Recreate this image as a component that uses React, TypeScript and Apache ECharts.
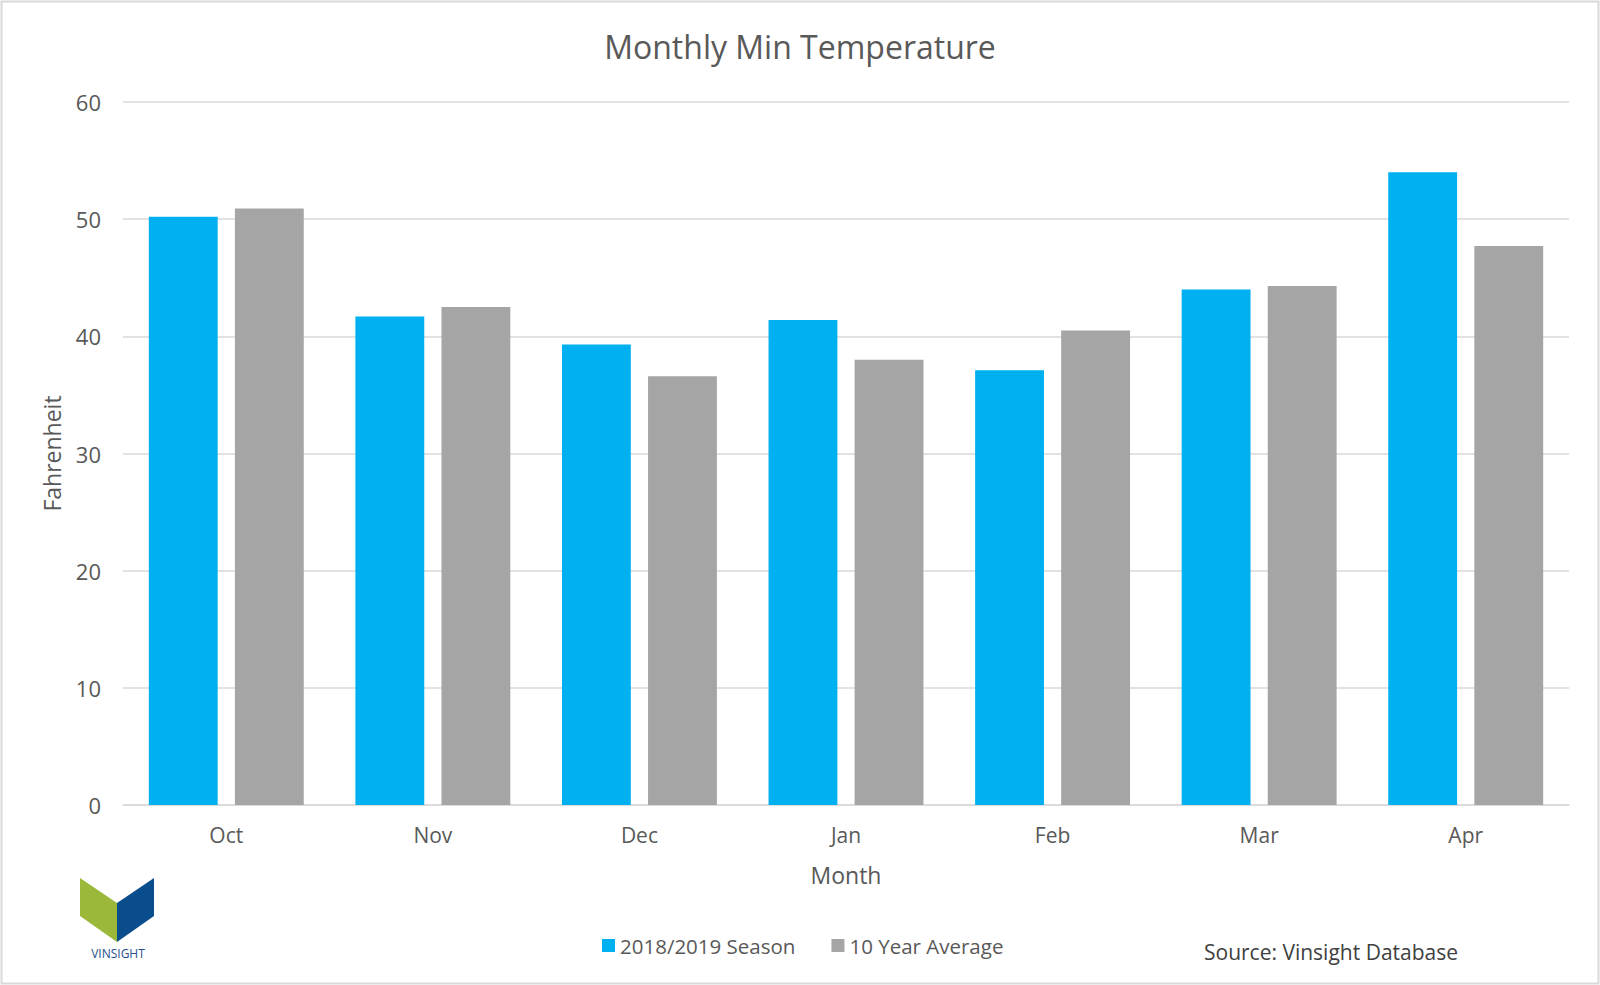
import React, { useEffect, useRef } from "react";
import * as echarts from "echarts";

const months = ["Oct", "Nov", "Dec", "Jan", "Feb", "Mar", "Apr"];
const season = [50.2, 41.7, 39.3, 41.4, 37.1, 44.0, 54.0];
const tenYearAvg = [50.9, 42.5, 36.6, 38.0, 40.5, 44.3, 47.7];
const seriesNames = ["2018/2019 Season", "10 Year Average"];
const FONT = "'Open Sans', 'Liberation Sans', sans-serif";

export default function App() {
  const ref = useRef<HTMLDivElement>(null);
  useEffect(() => {
    const chart = echarts.init(ref.current!, null, { renderer: "svg" });
    chart.setOption({
      animation: false,
      backgroundColor: "#ffffff",
      textStyle: { fontFamily: FONT },
      title: {
        text: "Monthly Min Temperature",
        left: "center",
        top: 25,
        textStyle: { fontFamily: FONT, fontSize: 32, fontWeight: "normal", color: "#595959" },
      },
      legend: {
        data: seriesNames,
        left: 597,
        top: 930,
        itemWidth: 13,
        itemHeight: 13,
        itemGap: 36,
        icon: "rect",
        textStyle: { fontFamily: FONT, fontSize: 20.5, color: "#595959" },
      },
      grid: { left: 123, right: 31, top: 102, bottom: 180, containLabel: false },
      xAxis: {
        type: "category",
        data: months,
        name: "Month",
        nameLocation: "middle",
        nameGap: 58,
        nameTextStyle: { fontFamily: FONT, fontSize: 23, color: "#595959" },
        axisLine: { lineStyle: { color: "#d9d9d9", width: 1.5 } },
        axisTick: { show: false },
        axisLabel: { fontFamily: FONT, fontSize: 21, color: "#595959", margin: 19 },
      },
      yAxis: {
        type: "value",
        min: 0,
        max: 60,
        interval: 10,
        name: "Fahrenheit",
        nameLocation: "middle",
        nameGap: 60,
        nameTextStyle: { fontFamily: FONT, fontSize: 23, color: "#595959" },
        axisLine: { show: false },
        axisTick: { show: false },
        axisLabel: { fontFamily: FONT, fontSize: 22, color: "#595959", margin: 22 },
        splitLine: { lineStyle: { color: "#d9d9d9", width: 1.5 } },
      },
      series: [
        {
          name: seriesNames[0],
          type: "bar",
          data: season,
          itemStyle: { color: "#00b0f0" },
          barGap: "25%",
          barCategoryGap: "25%",
        },
        {
          name: seriesNames[1],
          type: "bar",
          data: tenYearAvg,
          itemStyle: { color: "#a5a5a5" },
          barGap: "25%",
          barCategoryGap: "25%",
        },
      ],
      graphic: [
        {
          type: "rect",
          shape: { x: 1.5, y: 1.5, width: 1597, height: 982 },
          style: { fill: "none", stroke: "#d9d9d9", lineWidth: 2 },
          silent: true,
        },
        {
          type: "polygon",
          shape: { points: [[80, 878], [117, 903], [117, 942], [80, 916]] },
          style: { fill: "#9bb83a" },
        },
        {
          type: "polygon",
          shape: { points: [[117, 903], [154, 878], [154, 916], [117, 942]] },
          style: { fill: "#0a4d8c" },
        },
        {
          type: "text",
          x: 118,
          y: 953,
          style: {
            text: "VINSIGHT",
            fontFamily: FONT,
            fontSize: 12,
            fill: "#1f4e8c",
            align: "center",
            verticalAlign: "middle",
          },
        },
        {
          type: "text",
          x: 1331,
          y: 952,
          style: {
            text: "Source: Vinsight Database",
            fontFamily: FONT,
            fontSize: 21,
            fill: "#404040",
            align: "center",
            verticalAlign: "middle",
          },
        },
      ],
    });
    return () => chart.dispose();
  }, []);
  return (
    <div
      ref={ref}
      style={{ position: "absolute", left: 0, top: 0, width: 1600, height: 985 }}
    />
  );
}
